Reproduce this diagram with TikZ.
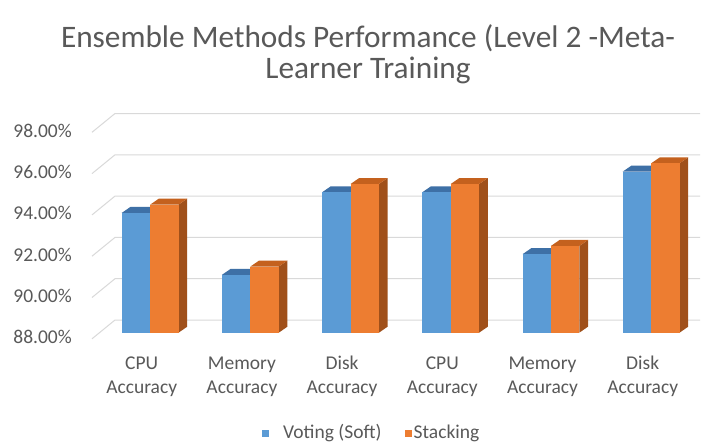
\documentclass[tikz,border=0pt]{standalone}
\usepackage{fontspec}
\setmainfont{Carlito}

\definecolor{gridc}{HTML}{D9D9D9}
\definecolor{txt}{HTML}{595959}
\definecolor{blueF}{HTML}{5B9BD5}
\definecolor{blueT}{HTML}{3E70A6}
\definecolor{blueS}{HTML}{30598A}
\definecolor{orngF}{HTML}{ED7D31}
\definecolor{orngT}{HTML}{C4611E}
\definecolor{orngS}{HTML}{A0501A}

\tikzset{
  gridln/.style={draw=gridc, line width=1pt},
  charttitle/.style={text=txt, font=\fontsize{31.3}{37}\selectfont, inner sep=0pt, anchor=base},
  ticklbl/.style={text=txt, font=\fontsize{19.5}{24}\selectfont, inner sep=0pt},
  catlbl/.style={ticklbl, align=center},
  legmark/.style={inner sep=0pt, minimum size=7pt},
}

% one 3D column: left x, right x, top y, front/top/side colours
\newcommand\chartbar[6]{%
  \fill[#6] (#2,332.7) -- ++(8.7,-6) -- ++(0,{#3-332.7}) -- ++(-8.7,6) -- cycle;
  \fill[#5] (#1,#3) -- ++(8.7,-6) -- ++({#2-#1},0) -- ++(-8.7,6) -- cycle;
  \fill[#4] (#1,#3) rectangle (#2,332.7);
}

\begin{document}
\begin{tikzpicture}[x=1pt,y=-1pt]
\useasboundingbox (0,0) rectangle (707,444);
\fill[white] (0,0) rectangle (707,444);

% title
\node[charttitle] (title1) at (368,47.5) {Ensemble Methods Performance (Level 2 -Meta-};
\node[charttitle] (title2) at (368,79) {Learner Training};

% gridlines on back wall and side
\foreach \k/\lab in {0/88.00\%,1/90.00\%,2/92.00\%,3/94.00\%,4/96.00\%,5/98.00\%} {
  \pgfmathsetmacro\yg{320-41.3*\k}
  \draw[gridln] (92,{\yg+18.8}) -- (115,\yg) -- (700,\yg);
  \node[ticklbl, anchor=east] (ytick\k) at (72,{\yg+17.3}) {\lab};
}

% columns
\foreach \i/\vb/\vo/\ca in {0/93.8/94.2/CPU, 1/90.8/91.2/Memory, 2/94.8/95.2/Disk,
                            3/94.8/95.2/CPU, 4/91.8/92.2/Memory, 5/95.8/96.2/Disk} {
  \pgfmathsetmacro\xa{121.7+100.2*\i}
  \pgfmathsetmacro\xb{\xa+28.4}
  \pgfmathsetmacro\xc{\xb+28.4}
  \pgfmathsetmacro\yb{332.7-20.65*(\vb-88)}
  \pgfmathsetmacro\yo{332.7-20.65*(\vo-88)}
  \chartbar{\xa}{\xb}{\yb}{blueF}{blueT}{blueS}
  \chartbar{\xb}{\xc}{\yo}{orngF}{orngT}{orngS}
  \node[catlbl] (cat\i) at ({141.7+100.2*\i},376.5) {\ca\\Accuracy};
}

% legend
\node[legmark, fill=blueF] (legvote) at (265,433.5) {};
\node[ticklbl, anchor=base west] (legvotetxt) at (283,438.5) {Voting (Soft)};
\node[legmark, fill=orngF] (legstack) at (408.5,433.5) {};
\node[ticklbl, anchor=base west] (legstacktxt) at (413.5,438.5) {Stacking};
\end{tikzpicture}
\end{document}
